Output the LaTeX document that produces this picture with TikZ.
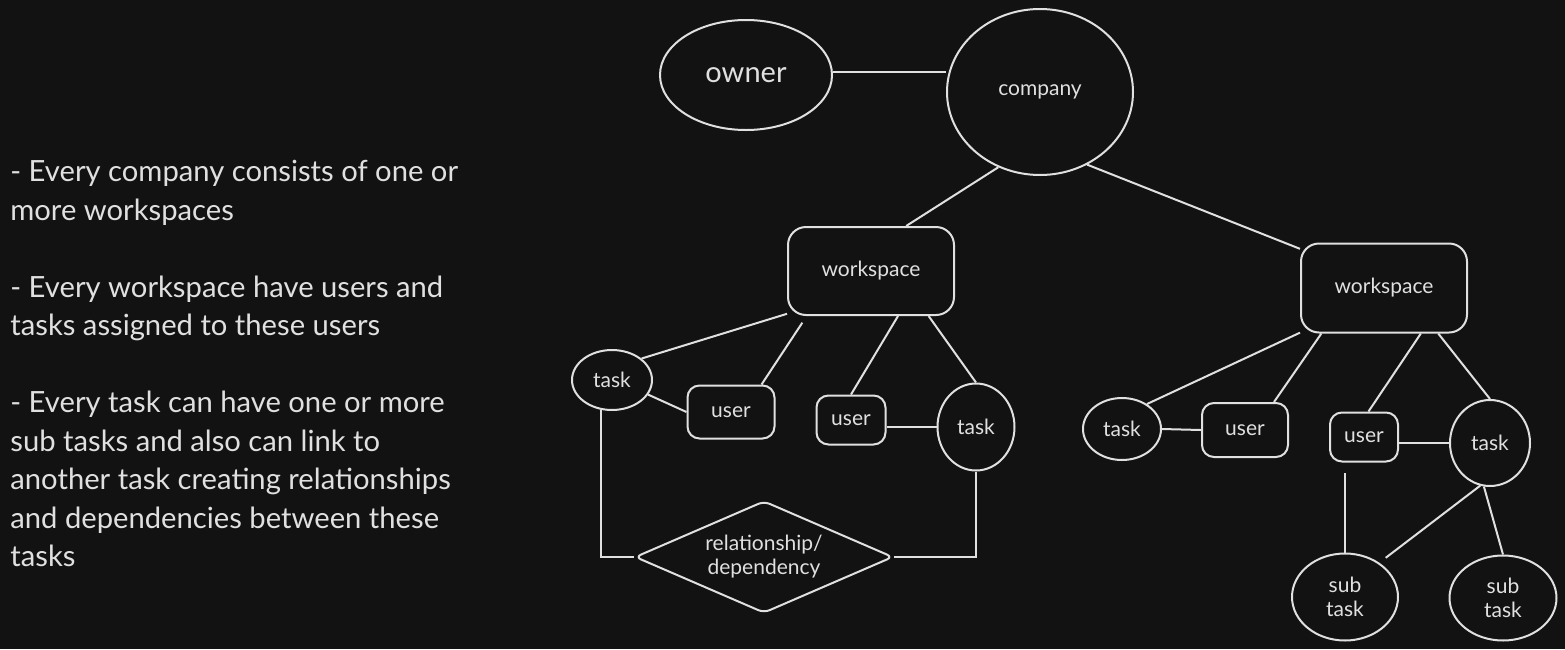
\documentclass[tikz,border=0pt]{standalone}
\usepackage{fontspec}
\setmainfont{Lato}
\usetikzlibrary{shapes.geometric,calc}
\definecolor{bgc}{HTML}{121212}
\definecolor{ink}{HTML}{E0E0E0}
\begin{document}
\begin{tikzpicture}[x=0.5pt,y=-0.5pt,
  every node/.style={text=ink, inner sep=0pt},
  link/.style={draw=ink, line width=1pt},
  hand/.style={font=\fontsize{10.5}{12}\selectfont},
  oval/.style={ellipse, draw=ink, line width=1pt, hand},
  rbox/.style={rectangle, draw=ink, line width=1pt, rounded corners=9pt, hand},
  ubox/.style={rectangle, draw=ink, line width=1pt, rounded corners=6pt, hand},
  rel/.style={diamond, aspect=2.3, draw=ink, line width=1pt, rounded corners=3pt, hand, align=center},
  note/.style={font=\fontsize{14.6}{19.25}\selectfont, align=left, anchor=north west}
]
\useasboundingbox (0,0) rectangle (1565,649);
\fill[bgc] (0,0) rectangle (1565,649);

% side text
\node[note] (txt) at (10,160) {- Every company consists of one or\\more workspaces\\[19.25pt]- Every workspace have users and\\tasks assigned to these users\\[19.25pt]- Every task can have one or more\\sub tasks and also can link to\\another task creating relationships\\and dependencies between these\\tasks};

% nodes
\node[oval, minimum width=86pt, minimum height=55pt, font=\fontsize{14.5}{16}\selectfont] (owner) at (746,75) {owner};
\node[oval, minimum width=93pt, minimum height=83pt] (company) at (1040,92) {company};

\node[rbox, minimum width=83pt, minimum height=44pt] (ws1) at (871,271) {workspace};
\node[rbox, minimum width=83pt, minimum height=44.5pt] (ws2) at (1384,288) {workspace};

\node[oval, minimum width=40pt, minimum height=30pt] (task1) at (612,380) {task};
\node[ubox, minimum width=43.5pt, minimum height=26.5pt] (user1) at (731,412) {user};
\node[ubox, minimum width=34.5pt, minimum height=24.5pt] (user2) at (851,420) {user};
\node[oval, minimum width=38.5pt, minimum height=43.5pt] (task2) at (976,427) {task};
\node[rel, minimum width=129pt, minimum height=56pt] (dep) at (764,557) {relationship/\\dependency};

\node[oval, minimum width=39pt, minimum height=31pt] (task3) at (1122,429) {task};
\node[ubox, minimum width=43pt, minimum height=27pt] (user3) at (1245,430) {user};
\node[ubox, minimum width=34pt, minimum height=24.5pt] (user4) at (1364,437) {user};
\node[oval, minimum width=40pt, minimum height=43pt] (task4) at (1490,443) {task};
\node[oval, minimum width=53pt, minimum height=43.5pt, align=center] (sub1) at (1345,597) {sub\\task};
\node[oval, minimum width=53.5pt, minimum height=42.5pt, align=center] (sub2) at (1503,598) {sub\\task};

% connectors
\draw[link] (owner.2) -- (owner.2 -| company.west);
\draw[link] (company.241) -- (ws1.52);
\draw[link] (company.303) -- (ws2.155);

\draw[link] (ws1.207) -- (task1.36);
\draw[link, shorten <=4pt] (ws1.215) -- (user1.42);
\draw[link] (ws1.301) -- (user2.north);
\draw[link] (ws1.322) -- (task2.north);
\draw[link] (task1.338) -- (user1.west);
\draw[link] (task2.west) -- (task2.west -| user2.east);
\draw[link] (task1.250) |- (dep.west);
\draw[link] (task2.south) |- (dep.east);

\draw[link] (ws2.208) -- (task3.45);
\draw[link] (ws2.216) -- (user3.44);
\draw[link] (ws2.309) -- (user4.80);
\draw[link] (ws2.320) -- (task4.north);
\draw[link] (task3.east) -- (user3.west);
\draw[link] (task4.west) -- (task4.west -| user4.east);
\draw[link, shorten >=5pt] (sub1.north) -- (sub1.north |- user4.south);
\draw[link, shorten >=4pt] (task4.257) -- (sub1.45);
\draw[link] (task4.262) -- (sub2.north);
\end{tikzpicture}
\end{document}
